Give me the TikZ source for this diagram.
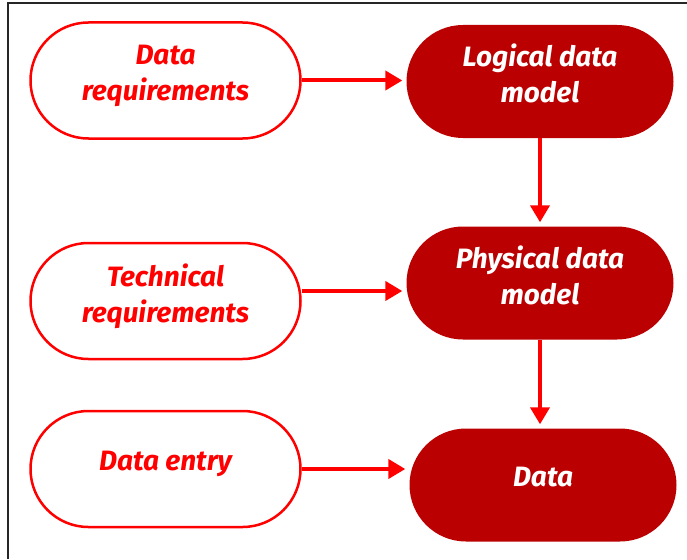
\documentclass[tikz,border=0pt]{standalone}
\usepackage{fontspec}
\setmainfont{Fira Sans}
\usepackage{tikz}
\usetikzlibrary{arrows.meta, positioning, shapes.misc, calc}
\definecolor{flowred}{RGB}{255,0,0}
\definecolor{flowdark}{RGB}{186,0,0}

\begin{document}
\begin{tikzpicture}[
  x=1pt, y=-1pt,
  every node/.style={font=\fontsize{28}{36}\selectfont\bfseries\itshape, align=center},
  input/.style={rounded rectangle, draw=flowred, line width=2.5pt, fill=white,
                text=flowred, minimum width=270pt, minimum height=116pt,
                text depth=16pt, inner sep=0pt},
  model/.style={rounded rectangle, fill=flowdark, text=white,
                minimum width=267pt, minimum height=113pt,
                text depth=16pt, inner sep=0pt},
  arr/.style={flowred, line width=4pt, -{Triangle[length=17pt, width=19pt]},
              shorten >=4pt},
]
  % Frame
  \useasboundingbox (0,0) rectangle (687,559);
  \draw[line width=1.5pt, black!85] (8,559) -- (8,3) -- (687,3);

  % Inputs (left column)
  \node[input] (dreq)   at (165.5, 80.5) {Data\\requirements};
  \node[input] (treq)   at (165.5, 301)  {Technical\\requirements};
  \node[input] (dentry) at (165.5, 469)  {Data entry};

  % Models (right column)
  \node[model] (ldm)  at (540, 81.5) {Logical data\\model};
  \node[model] (pdm)  at (540, 283)  {Physical data\\model};
  \node[model] (data) at (543, 485)  {Data};

  % Arrows into the models
  \draw[arr] (dreq.east) -- (dreq.east -| ldm.west);
  \draw[arr] ([yshift=10pt]treq.east) -- ([yshift=10pt]treq.east -| pdm.west);
  \draw[arr] (dentry.east) -- (dentry.east -| data.west);

  % Arrows down the models
  \draw[arr] (ldm.south) -- (pdm.north);
  \draw[arr] (pdm.south) -- (pdm.south |- data.north);
\end{tikzpicture}
\end{document}
